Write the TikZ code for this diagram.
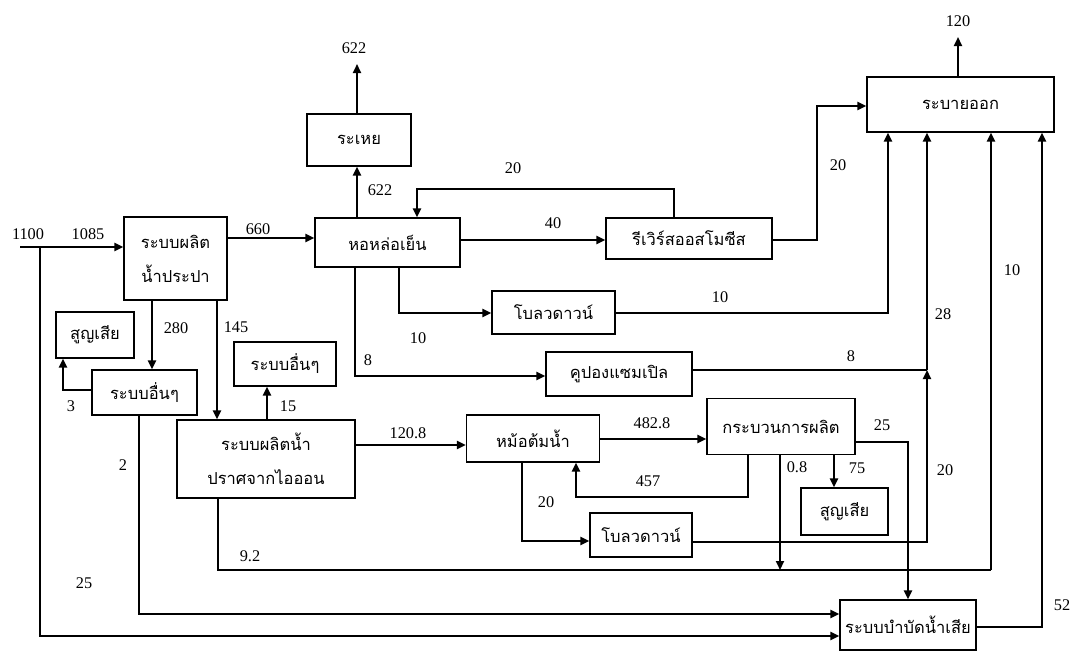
\documentclass[tikz,border=0pt]{standalone}
\usepackage{fontspec}
\setmainfont{Liberation Serif}
\newfontfamily\thai[Script=Thai]{Loma}
\usetikzlibrary{arrows.meta,calc}

\begin{document}
\begin{tikzpicture}[x=1pt,y=-1pt,
  box/.style={draw, line width=1.2pt, inner sep=0pt, align=center,
              font=\thai\fontsize{16.5}{34}\selectfont},
  pipe/.style={line width=2.1pt},
  flow/.style={pipe, -{Triangle[length=9pt,width=8pt]}},
  num/.style={inner sep=0pt, font=\fontsize{16.3}{18}\selectfont}]
\useasboundingbox (0,0) rectangle (1072,651);

% process units
\node[box, minimum width=103pt, minimum height=83pt] (tap)    at (175.5,258.5) {ระบบผลิต\\น้ำประปา};
\node[box, minimum width=145pt, minimum height=49pt] (tower)  at (387.5,242.5) {หอหล่อเย็น};
\node[box, minimum width=104pt, minimum height=52pt] (evap)   at (359,140)     {ระเหย};
\node[box, minimum width=166pt, minimum height=41pt] (ro)     at (689,238.5)   {รีเวิร์สออสโมซีส};
\node[box, minimum width=187pt, minimum height=55pt] (drain)  at (960.5,104.5) {ระบายออก};
\node[box, minimum width=123pt, minimum height=43pt] (bdA)    at (553.5,312.5) {โบลวดาวน์};
\node[box, minimum width=146pt, minimum height=44pt] (coupon) at (619,374)     {คูปองแซมเปิล};
\node[box, minimum width=105pt, minimum height=45pt] (otherA) at (144.5,392.5) {ระบบอื่นๆ};
\node[box, minimum width=78pt,  minimum height=46pt] (lossA)  at (95,335)      {สูญเสีย};
\node[box, minimum width=102pt, minimum height=44pt] (otherB) at (285,364)     {ระบบอื่นๆ};
\node[box, minimum width=178pt, minimum height=78pt] (deion)  at (266,459)     {ระบบผลิตน้ำ\\ปราศจากไอออน};
\node[box, minimum width=133pt, minimum height=47pt] (boiler) at (533,438.5)   {หม้อต้มน้ำ};
\node[box, minimum width=148pt, minimum height=56pt] (proc)   at (781,426.5)   {กระบวนการผลิต};
\node[box, minimum width=87pt,  minimum height=47pt] (lossB)  at (844.5,511.5) {สูญเสีย};
\node[box, minimum width=102pt, minimum height=44pt] (bdB)    at (641,535)     {โบลวดาวน์};
\node[box, minimum width=136pt, minimum height=50pt] (treat)  at (908,625)     {ระบบบำบัดน้ำเสีย};

% free ends and junctions
\coordinate (feed)    at (20,247);
\coordinate (split)   at (40,247);
\coordinate (vapour)  at (357,64);
\coordinate (outlet)  at (958,37);
\coordinate (joinA)   at (927,370);
\coordinate (joinB)   at (991,570);
\coordinate (joinC)   at (780,570);

% raw water
\draw[flow] (feed) -- (tap.west |- feed);
\draw[flow] (split) |- (treat.west |- 0,636);

% cooling tower circuit
\draw[flow] (tap.east |- 0,238) -- (tower.west |- 0,238);
\draw[flow] (tower.north -| 357,0) -- (evap.south -| 357,0);
\draw[flow] (evap.north -| 357,0) -- (vapour);
\draw[flow] (ro.north -| 674,0) -- (674,189) -| (tower.north -| 417,0);
\draw[flow] (tower.east |- 0,240) -- (ro.west |- 0,240);
\draw[flow] (ro.east |- 0,240) -- (817,240) |- (drain.west |- 0,106);
\draw[flow] (drain.north -| outlet) -- (outlet);
\draw[flow] (tower.south -| 399,0) |- (bdA.west |- 0,313);
\draw[flow] (bdA.east |- 0,313) -| (drain.south -| 888,0);
\draw[flow] (tower.south -| 355,0) |- (coupon.west |- 0,376);
\draw[pipe] (coupon.east |- 0,370) -- (joinA);
\draw[flow] (joinA) -- (drain.south -| joinA);

% tap water users
\draw[flow] (tap.south -| 152,0) -- (otherA.north -| 152,0);
\draw[flow] (otherA.west |- 0,390) -| (lossA.south -| 63,0);
\draw[flow] (otherA.south -| 139,0) |- (treat.west |- 0,614);
\draw[flow] (tap.south -| 217,0) -- (deion.north -| 217,0);

% deionised water and boiler
\draw[flow] (deion.north -| 267,0) -- (otherB.south -| 267,0);
\draw[flow] (deion.east |- 0,445) -- (boiler.west |- 0,445);
\draw[pipe] (deion.south -| 218,0) |- (joinB);
\draw[flow] (joinB) -- (drain.south -| joinB);
\draw[flow] (boiler.east |- 0,439) -- (proc.west |- 0,439);
\draw[flow] (proc.south -| 748,0) |- (576,497) -- (boiler.south -| 576,0);
\draw[flow] (boiler.south -| 522,0) |- (bdB.west |- 0,541);
\draw[flow] (bdB.east |- 0,542) -| (joinA);
\draw[flow] (proc.south -| joinC) -- (joinC);
\draw[flow] (proc.south -| 834,0) -- (lossB.north -| 834,0);
\draw[flow] (proc.east |- 0,442) -| (treat.north -| 908,0);
\draw[flow] (treat.east |- 0,627) -| (drain.south -| 1042,0);

% flow rates
\node[num] (q1100) at (28,234)   {1100};
\node[num] (q1085) at (88,234)   {1085};
\node[num] (q660)  at (258,229)  {660};
\node[num] (q622a) at (354,48)   {622};
\node[num] (q622b) at (380,190)  {622};
\node[num] (q20a)  at (513,168)  {20};
\node[num] (q40)   at (553,223)  {40};
\node[num] (q20b)  at (838,165)  {20};
\node[num] (q120)  at (958,21)   {120};
\node[num] (q10a)  at (720,297)  {10};
\node[num] (q10b)  at (418,338)  {10};
\node[num] (q8a)   at (368,360)  {8};
\node[num] (q8b)   at (851,356)  {8};
\node[num] (q28)   at (943,314)  {28};
\node[num] (q10c)  at (1012,270) {10};
\node[num] (q280)  at (176,328)  {280};
\node[num] (q145)  at (236,327)  {145};
\node[num] (q3)    at (71,406)   {3};
\node[num] (q15)   at (288,406)  {15};
\node[num] (q2)    at (123,465)  {2};
\node[num] (q1208) at (408,433)  {120.8};
\node[num] (q4828) at (652,423)  {482.8};
\node[num] (q25a)  at (882,425)  {25};
\node[num] (q08)   at (797,467)  {0.8};
\node[num] (q75)   at (857,468)  {75};
\node[num] (q20c)  at (945,470)  {20};
\node[num] (q457)  at (648,481)  {457};
\node[num] (q20d)  at (546,502)  {20};
\node[num] (q92)   at (250,556)  {9.2};
\node[num] (q25b)  at (84,583)   {25};
\node[num] (q52)   at (1062,605) {52};
\end{tikzpicture}
\end{document}
